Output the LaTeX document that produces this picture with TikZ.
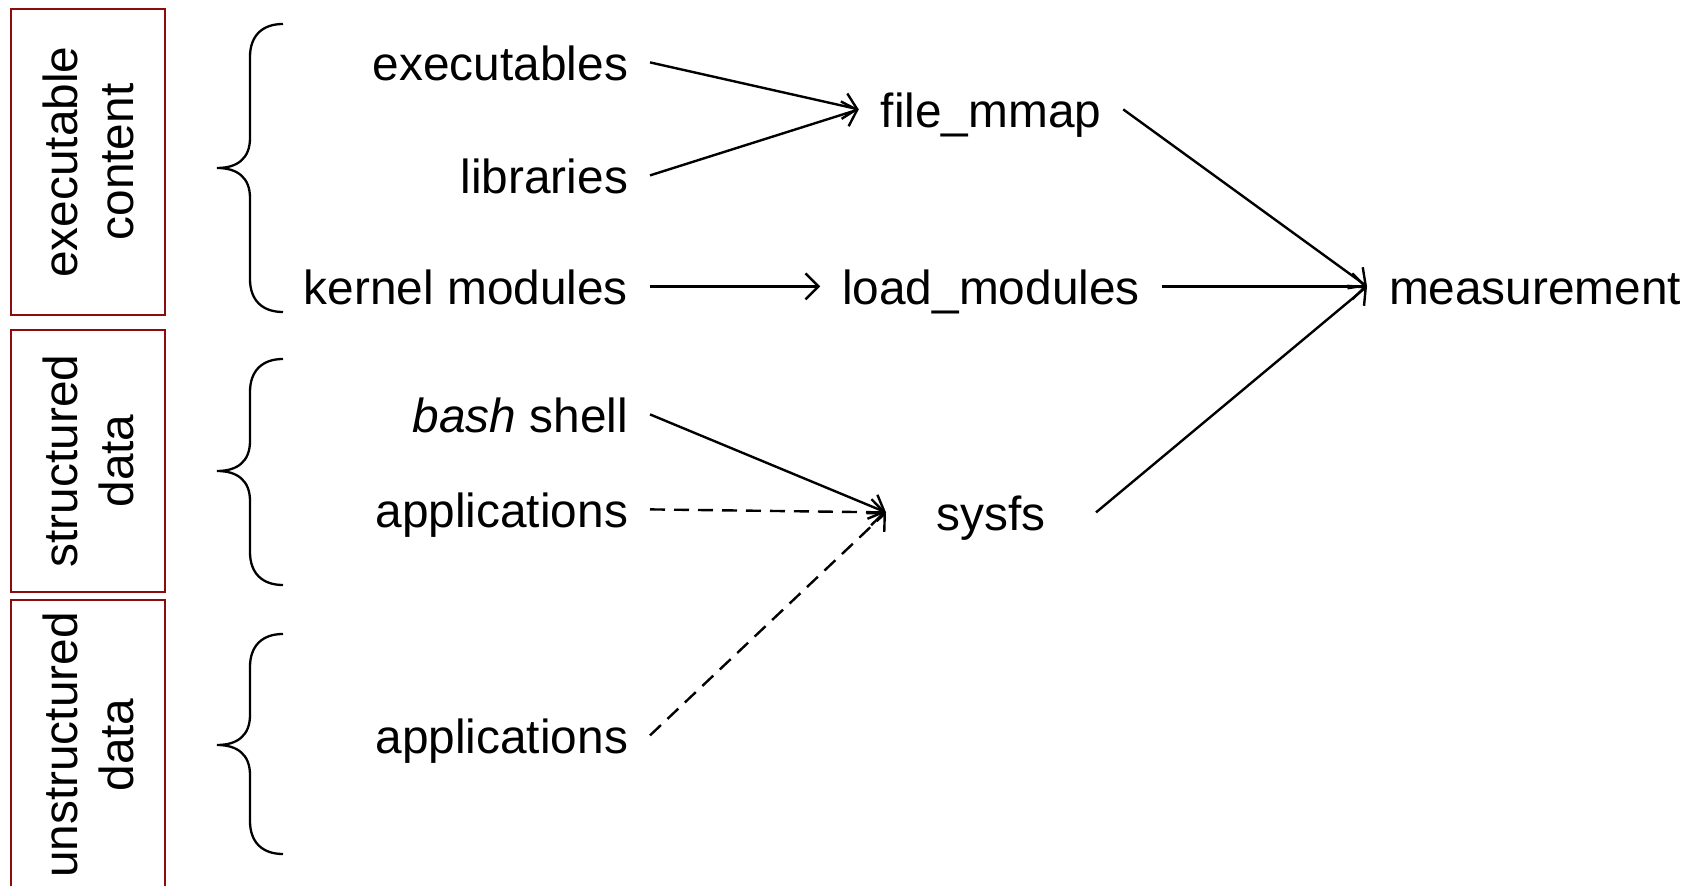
\documentclass[tikz,border=0pt]{standalone}
\usepackage{fontspec}
\setmainfont{Liberation Sans}
\usetikzlibrary{arrows.meta}

\definecolor{boxred}{RGB}{140,12,12}

% brace opening to the right: #1 top y, #2 tip y, #3 bottom y
\newcommand\catbrace[3]{%
  \draw[bracestyle] (283,#1) .. controls (262,#1) and (250,#1+12) .. (250,#1+33)
    -- (250,#2-30) .. controls (250,#2-10) and (238,#2) .. (217,#2)
    .. controls (238,#2) and (250,#2+10) .. (250,#2+30)
    -- (250,#3-33) .. controls (250,#3-12) and (262,#3) .. (283,#3);}

\begin{document}
\begin{tikzpicture}[x=0.5pt,y=-0.5pt,
  every node/.style={font=\fontsize{23.9}{28}\selectfont},
  item/.style={inner sep=0pt, outer xsep=11pt, outer ysep=0pt,
    text height=18.6pt, text depth=0pt},
  catbox/.style={draw=boxred, line width=1pt, rotate=90, align=center,
    inner sep=0pt, minimum height=77pt},
  bracestyle/.style={line width=1.15pt},
  arr/.style={line width=1.2pt, -{Straight Barb[length=6.5pt,width=13pt,line width=1.2pt]}},
  dashline/.style={dash pattern=on 7.5pt off 4.5pt}]

\useasboundingbox (0,0) rectangle (1698,886);

% category boxes
\node[catbox, minimum width=153pt] (cat1) at (88,162) {executable\\content};
\node[catbox, minimum width=131pt] (cat2) at (88,461) {structured\\data};
\node[catbox, minimum width=145pt] (cat3) at (88,745) {unstructured\\data};

% braces
\catbrace{24}{168}{312}
\catbrace{359}{471}{585}
\catbrace{634}{745}{854}

% sources
\node[item, anchor=base east] (exe)  at (628+22,81)  {executables};
\node[item, anchor=base east] (lib)  at (628+22,194) {libraries};
\node[item, anchor=base east] (kmod) at (628+22,305) {kernel modules};
\node[item, anchor=base east] (bash) at (628+22,433) {\textit{bash} shell};
\node[item, anchor=base east] (app1) at (628+22,528) {applications};
\node[item, anchor=base east] (app2) at (628+22,754) {applications};

% hooks
\node[item, anchor=base] (fmmap) at (991,128) {file\_mmap};
\node[item, anchor=base] (lmod)  at (991,305) {load\_modules};
\node[item, anchor=base, minimum width=83pt] (sysfs) at (991,531) {sysfs};

% result
\node[item, anchor=base west] (meas) at (1389-22,305) {measurement};

% connectors
\draw[arr] (exe.east) -- (fmmap.west);
\draw[arr] (lib.east) -- (fmmap.west);
\draw[arr] (kmod.east) -- (lmod.west);
\draw[arr] (bash.east) -- (sysfs.west);
\draw[arr, dashline] (app1.east) -- (sysfs.west);
\draw[arr, dashline] (app2.east) -- (sysfs.west);
\draw[arr] (fmmap.east) -- (meas.west);
\draw[arr] (lmod.east) -- (meas.west);
\draw[arr] (sysfs.east) -- (meas.west);
\end{tikzpicture}
\end{document}
